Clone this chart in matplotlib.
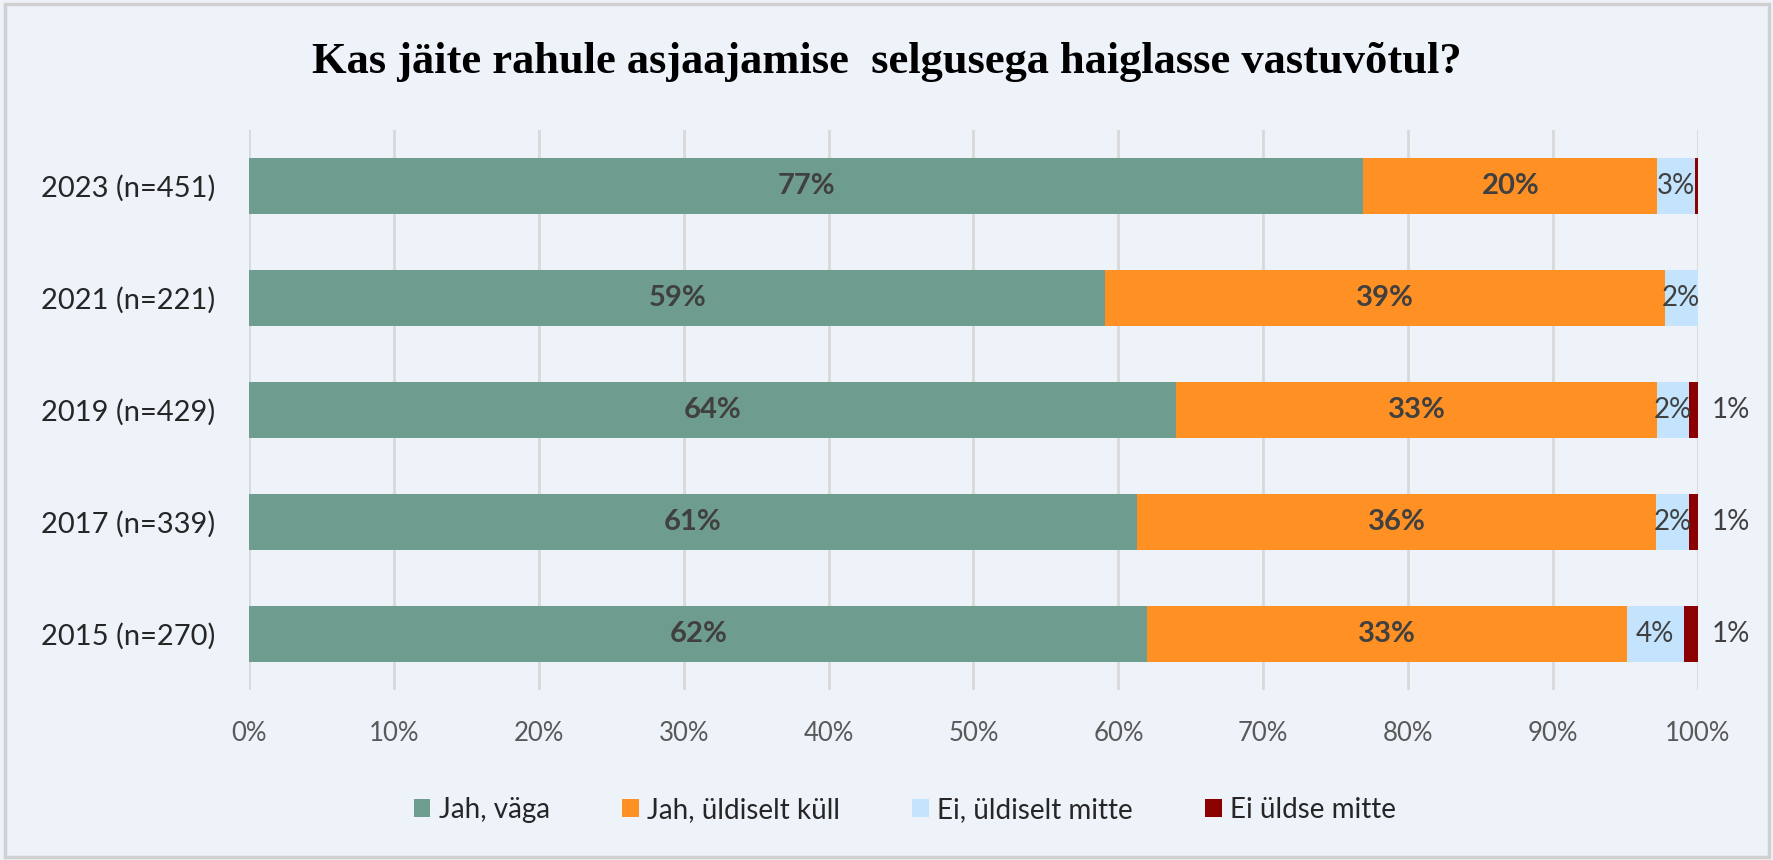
import matplotlib
matplotlib.use("Agg")
import matplotlib.pyplot as plt
from matplotlib.patches import Rectangle

categories = ["2015 (n=270)", "2017 (n=339)", "2019 (n=429)", "2021 (n=221)", "2023 (n=451)"]
series_names = ["Jah, väga", "Jah, üldiselt küll", "Ei, üldiselt mitte", "Ei üldse mitte"]
jah_vaga = [62.0, 61.3, 64.0, 59.1, 76.9]
jah_kull = [33.1, 35.8, 33.2, 38.6, 20.3]
ei_mitte = [3.9, 2.3, 2.2, 2.3, 2.6]
ei_uldse = [1.0, 0.6, 0.6, 0.0, 0.2]
xticks = [0, 10, 20, 30, 40, 50, 60, 70, 80, 90, 100]

colors = ["#6E9C8F", "#FF9024", "#C3E4FC", "#8B0000"]
BG = "#EEF3FA"
FONT = "Lato"

fig = plt.figure(figsize=(17.74, 8.6), dpi=100, facecolor=BG)
fig.patches.append(Rectangle((0.003, 0.003), 0.994, 0.992, transform=fig.transFigure,
                             fill=False, edgecolor="#D0D0D0", linewidth=2.5))
ax = fig.add_axes([249/1774, 1 - 690/860, (1698-249)/1774, 560/860])
ax.set_facecolor(BG)

series = [jah_vaga, jah_kull, ei_mitte, ei_uldse]
ypos = list(range(len(categories)))
left = [0.0] * len(categories)
for si, (vals, col, name) in enumerate(zip(series, colors, series_names)):
    ax.barh(ypos, vals, left=left, height=0.5, color=col, label=name, zorder=3)
    for i, v in enumerate(vals):
        cx = left[i] + v / 2
        if si < 2:
            ax.text(cx, ypos[i], f"{v:.0f}%", ha="center", va="center", fontsize=21,
                    fontweight="bold", color="#404040", family=FONT, zorder=4)
        elif si == 2:
            ax.text(cx, ypos[i], f"{v:.0f}%", ha="center", va="center", fontsize=20,
                    color="#404040", family=FONT, zorder=4)
        else:
            if v >= 0.5:
                ax.annotate(f"{v:.0f}%", xy=(left[i] + v, ypos[i]), xytext=(10, 0),
                            textcoords="offset points", ha="left", va="center",
                            fontsize=20, color="#404040", family=FONT)
    left = [l + v for l, v in zip(left, vals)]

ax.set_xlim(0, 100)
ax.set_ylim(-0.5, 4.5)
ax.set_xticks(xticks)
ax.set_xticklabels([f"{t}%" for t in xticks], fontsize=18.5, color="#595959", family=FONT)
ax.set_yticks(ypos)
ax.set_yticklabels(categories, fontsize=21, color="#262626", family=FONT)
ax.tick_params(axis="both", length=0)
ax.tick_params(axis="x", pad=22)
ax.tick_params(axis="y", pad=24)
ax.grid(axis="x", color="#D9D9D9", linewidth=2, zorder=0)
for s in ax.spines.values():
    s.set_visible(False)

fig.text(0.5, 1 - 62/860, "Kas jäite rahule asjaajamise  selgusega haiglasse vastuvõtul?",
         ha="center", va="center", fontsize=32, fontweight="bold",
         family="Liberation Serif", color="#000000")

leg = fig.legend(loc="center", bbox_to_anchor=(905/1774, 1 - 810/860), ncol=4,
                 frameon=False, prop={"family": FONT, "size": 20},
                 handlelength=0.6, handleheight=0.6, handletextpad=0.3, columnspacing=2.6)
for t in leg.get_texts():
    t.set_color("#262626")

fig.savefig("out.png", dpi=100, facecolor=BG)
